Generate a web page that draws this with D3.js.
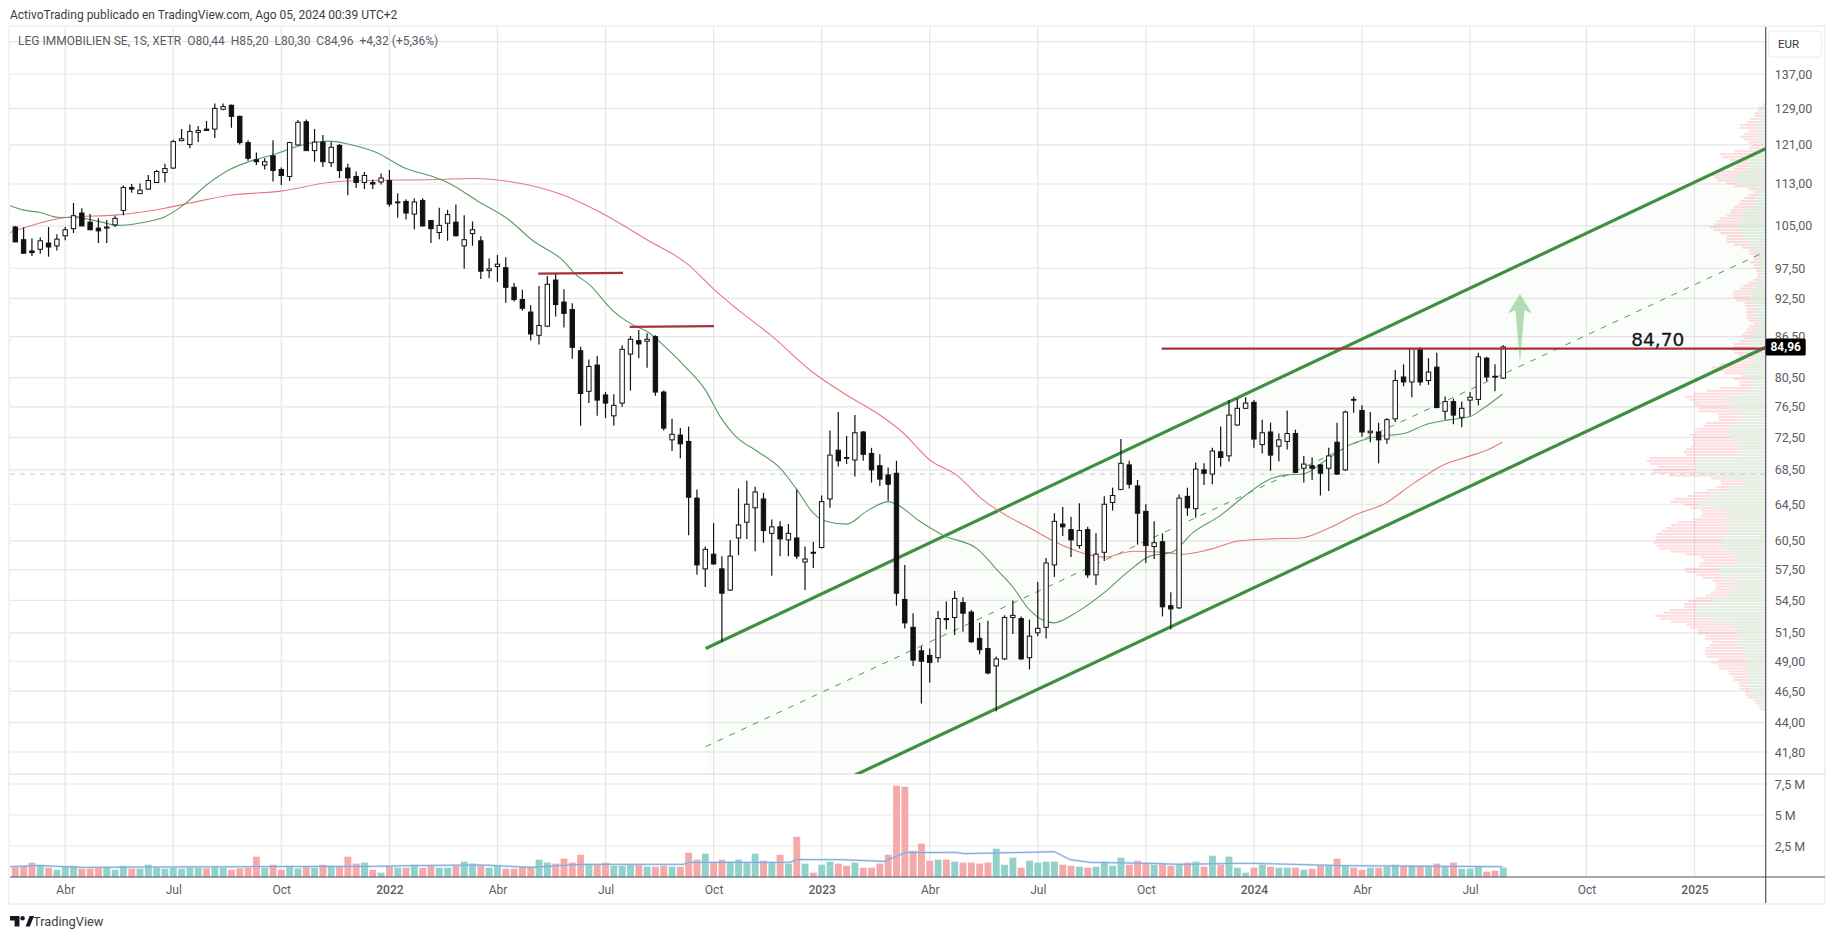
<!DOCTYPE html>
<html>
<head>
<meta charset="utf-8">
<script src="https://cdn.jsdelivr.net/npm/d3@7"></script>
<style>
  body { margin: 0; background: #fff; }
  text { font-family: Roboto, sans-serif; }
</style>
</head>
<body>
<script>
// weekly candles, bar 0 = mid Mar 2021, last bar = Jul 2024
var opens = [
  104.8,102.5,100.5,100.8,101.9,101.4,103.2,104.5,107.4,105.7,
  104.6,104.6,105.2,107.9,112.3,111.1,112,113.3,115.3,116.2,
  121.9,121.1,123.7,124.4,124.4,128.8,129.7,127.2,121.5,117.9,
  116.8,118.7,115.9,114.5,121,126,119.8,121.6,117.3,120.9,
  116.2,114.5,113.3,113.3,113.4,113.7,109.4,109.6,107.2,109.8,
  106,103.8,105.5,105.7,101.4,103.6,102.3,97.1,97.8,97.6,
  94.3,92.3,90.3,86.7,88.1,95.5,91.9,90.7,84.4,78.6,
  82.3,78.1,75.3,77,83.9,85.9,85.8,86.5,78.5,72.2,
  72.8,72,65.2,57.6,59.1,57.6,55.5,60.8,62.5,64.1,
  65.1,61.3,62,60.6,60.8,58.3,59.3,59.8,65.1,70.9,
  70,69.7,73.2,70.5,69,67.9,68.1,54.6,52,49.9,
  49.5,49.3,52.8,52.9,54.3,53.4,51,50.1,48.6,49.2,
  52.9,52.8,49.3,51.5,52,58,62.3,61.7,60,61.7,
  57,59.3,64.7,66.2,69.1,66.6,63.7,59.9,60.4,54,
  53.8,65.4,64,68.5,68,70.7,70.2,74.1,76.3,77.1,
  71.6,73.2,71.4,72,73,68.7,69,69.1,68.7,71.9,
  68.5,77.5,76,73.1,73.2,72.3,74.9,80.6,79.9,84.7,
  80.1,82,75.9,77.2,75.1,77.4,77.5,83.3,80.7,80.44
];
var highs = [
  105,104.7,102.7,102.9,104.8,103.5,104.8,109.3,108.3,107.2,
  106.4,106.1,106.9,112.7,113,113.1,114.8,115.8,117.1,122.1,
  124.4,125.4,125.1,126.2,130.1,130.1,129.9,127.4,122,119.4,
  118.2,122,116.3,121.7,126.4,126.5,124.4,123.1,121.6,121.2,
  117.1,115.5,115.4,113.9,115.1,115.8,111.2,110,110.2,110.2,
  106.1,108.4,108,109,107,105.8,103.1,99.2,99.8,99.4,
  95,93.9,91.4,94.5,96.2,96.6,94,91.7,85,83.1,
  83.6,78.5,78.2,85.2,86.6,87.5,87,86.7,78.7,74.9,
  73.7,73.9,66.2,59.9,62.4,58.9,60.6,66.3,67.2,66.5,
  65.8,62.8,62.6,62.3,66.2,59.9,60.4,65.5,73.4,75.8,
  72.7,75.4,73.3,71.2,70.4,68.8,69.6,58,53.3,50.3,
  50.1,53.5,54.4,55.4,54.8,53.6,52.4,52.6,49.4,53.1,
  54.5,53,52.7,56.3,58.7,63.5,64.2,63.1,64.6,62,
  61.3,65.4,66.4,72.3,69.6,67.3,64.5,62.6,61.3,55.3,
  65.6,66.4,69.4,69.3,71.2,73.9,77.4,77.6,77.8,77.4,
  74.8,74.4,73,76,73.5,70.2,70,69.2,71.2,74.4,
  76,77.9,76.7,75.8,74.4,75,81.6,82.4,84.8,84.9,
  83.3,84.1,77.9,77.6,77.2,78.5,84.1,83.5,82.4,85.2
];
var lows = [
  102.1,100,99.6,100,99.5,100.6,102.4,103.7,105,104.2,
  101.9,101.9,104.8,107,111.3,111.1,111.8,113.3,113.3,116,
  121.9,120.3,121.6,124.1,122.5,128.6,124.7,121.1,117.7,116.8,
  115.9,113.5,112.8,113.6,120.9,119.8,117.5,116.4,116.4,114.2,
  110.8,112.2,112,112,112.9,108.6,106.5,106.2,104.4,104.9,
  101.9,102.6,102.3,103.1,97.4,101.4,95.7,95.8,95.2,91.8,
  92,90.5,85.9,85.3,88,89.6,87.9,83.2,74,77,
  75.3,75,74,76.5,78.7,83.3,81.9,78,73.4,70.8,
  69.9,61.1,57,55.8,58,50.7,55.4,59,60.7,59.4,
  60.3,56.9,58.9,58.9,58.6,55.5,57.7,59.7,64.1,68.9,
  69.2,67.7,69.6,67,66.6,64.9,54,51.9,48.6,45.5,
  47.2,48.9,51.8,51.3,51.6,50.6,49.6,47.9,44.9,49.1,
  51.4,49.1,48.3,51.2,51,56.8,61,58.8,59.7,56.7,
  56,58.4,63.8,66.1,66.3,60.1,58.2,58.6,53,51.8,
  53.7,63.2,63,66.7,66.8,68.9,69.5,74,76.2,71.2,
  70.5,68.4,69.5,71,68.1,67,67.3,65.5,66,67.9,
  68.4,75.7,72.6,71.9,69.3,71.7,74.5,79.3,77.8,79.4,
  79.5,76.3,74.8,74.2,73.8,75.3,76.7,80,78.6,80.3
];
var closes = [
  102.1,100.1,100.2,102.3,101.2,102.6,104.3,106.9,105,104.3,
  104.1,104.8,106.4,112.3,112,111.8,113.7,115.5,116.1,121.7,
  122.3,123.9,124.1,124.1,129,129.4,127.2,121.5,118.2,117.5,
  117.5,115.7,114.7,121.5,125.9,119.8,121.6,117.5,120.5,115.7,
  114.2,113.3,114.7,113,114.2,109.1,109.5,107.4,109.5,105,
  104.5,105.1,107.1,103.2,102.5,104.3,97,97.4,98.2,94.3,
  92.3,90.9,86.9,88.2,94.8,91.5,90.1,84.9,78.3,82.1,
  77.4,77,76.7,84.6,86.1,85.4,86.1,78.5,73.7,72.9,
  71.7,65.3,58,59.6,58.1,55.2,58.9,62.2,64.5,65.9,
  61.6,62,60.7,61.3,58.9,58.6,59.2,64.8,70.3,69.6,
  69.9,73.1,70.4,68.5,67.4,66.8,55.2,52.4,49.1,49,
  48.9,52.8,52.7,54.7,53.3,50.7,50,48,49.2,52.9,
  53.1,49.2,51.2,51.9,58.2,62.6,62,60.6,61.6,57,
  59.1,64.5,65.5,69.3,66.8,63.5,60,60.3,53.9,53.7,
  65.2,64.1,68.6,68.1,70.8,70,75.4,76.3,77,72.3,
  73.1,70.3,72.2,73,68.2,69.2,68.7,68.1,70.2,68,
  75.8,77.4,73.2,73.3,72.2,74.8,80.1,79.9,84.7,79.9,
  81.3,76.4,77.2,75.4,76.3,77.8,83.5,80.6,80.64,84.96
];
// millions of shares
var volumes = [
  .78,.89,1.16,.99,.75,.59,.83,.91,.67,.67,
  .75,.81,.59,.91,.67,.67,.99,.75,.67,.75,
  .67,.75,.75,.7,.83,.75,.59,.7,.75,1.64,
  .75,.99,.59,.91,.7,.81,.75,.99,.91,.81,
  1.64,1.08,1.16,.59,.35,.89,.75,.75,.99,.75,
  .89,.75,.75,.89,1.24,1.08,.94,.75,.89,.67,
  .67,.81,.83,1.4,1.16,1.08,1.48,1.16,1.8,1.05,
  .99,1.16,.91,.91,.99,.99,.83,.83,.91,.83,
  .83,1.96,1.4,1.88,1.16,1.4,1.24,1.4,1.16,1.88,
  1.32,1.18,1.8,1.08,3.25,1.08,.35,.99,1.24,1.08,
  .91,1.16,.75,.75,1.08,1.8,7.37,7.28,2.12,2.69,
  1.32,1.4,1.4,1.24,1.16,1.16,1.08,1.16,2.28,.99,
  1.56,.75,1.32,1.16,1.24,1.24,.99,.91,.83,.75,
  .83,1.24,.91,1.56,.99,1.32,1.16,.99,1.08,.91,
  1.08,1.16,1.24,.83,1.72,.99,1.64,.75,.35,.75,
  .99,.83,.75,.75,.75,.59,.67,.91,.91,1.48,
  .91,.75,.59,.75,.75,.83,.99,.91,.91,.91,
  .91,1.08,.83,1.16,.67,.67,.83,.43,.51,.75
];

// moving averages, read at these bar numbers
var fastWeeks = [-0.6,0.9,3,5.1,7.8,10.1,12.4,15.2,18,20.3,23,25.8,28.1,31.1,35,37.7,40,43.3,47,50.2,52,55.7,59.4,62.2,65.9,67.3,69.1,71.9,74.3,76.1,78.4,80.8,83,84.8,86.8,89.2,92,94,96,97.2,100,102.4,105,106,108.8,111.6,115.8,118.1,120,122,124.9,127.7,130.9,133.7,136.5,139.1,141.7,144.9,147.7,150.9,152.9,154.9,157.7,160.6,163.8,167,169.8,172.6,175,176.6,178.9];
var fastAverage = [108.8,108,107.5,106.6,106.5,105.8,105.1,105.6,106.7,109,112.8,115.9,117.5,119,121.2,121.8,121.2,119.5,116.1,114.5,113.3,109.6,106.1,102.4,98.8,96.6,94.7,90.5,88.3,87.2,84.7,81.8,78.8,75.2,72.5,70.8,68.7,66.2,63.5,62.7,62.3,63.7,64.8,64.5,62.6,61.1,59.6,57.5,55.8,53.6,52.4,53.4,55.2,57.2,58.9,59.3,61.4,63.2,65.3,67.4,67.9,68,69.7,71.6,72.6,73,74.2,74.8,75.2,76.3,78.2];
var slowWeeks = [-0.6,6.9,12,18,21,25.8,32,37.7,40,50.6,55.2,59.4,65.8,70.3,76.1,80.8,84.4,87,90.8,96,100,104,106.8,110,113.2,116.4,119.3,122,125.3,128.5,130.9,134.5,138.1,140.5,143.7,147.3,150.9,154.7,158.1,161.4,164.6,168.2,171.8,175,177,178.9];
var slowAverage = [103.8,106.7,107,108.3,109.3,110.8,111.6,113.3,113.6,113.9,114.1,113.5,110.9,107.6,102.4,98.3,93.5,90.6,86.8,81.2,78.1,75.4,73.1,69.7,67.9,65,63.2,61.9,60.3,59.2,58.8,59.4,59.3,59.1,59.6,60.5,60.7,60.8,61.9,63.4,64.5,66.9,69.1,70.2,70.9,71.9];
var volumeAverageWeeks = [-0.6,3,8,30,43,48,56,62,68,72.7,80.4,81,93.2,93.9,99.3,104.6,107,113.1,114.1,125,126.9,129.3,136.4,140.2,147.2,149,160,178.9];
var volumeAverage = [.84,.92,.78,.84,.86,.92,.97,.78,1.02,1.02,1.02,1.18,1.18,1.4,1.4,1.26,1.96,1.99,1.88,2.04,1.4,1.18,1.1,1.02,1.1,1.1,.91,.83];

// parallel channel
var channelWeeks = [83.05, 210.56];
var channelUpper = [50.1, 120.2];
var channelMiddle = [42.2, 100.4];
var channelLower = [35.5, 84.9];

// drawn resistance levels
var levelWeeks = [[62.9, 73.1], [73.9, 84.05], [137.9, 210.56]];
var levelPrices = [[96.6, 96.7], [88, 88.1], [84.7, 84.7]];
var levelLabelWeek = 194.4;
var arrowWeek = 181;
var arrowPrices = [93.2, 90.1, 82.6];

// volume by price, top row to bottom row (relative width)
var profileTotal = [4,7,8,11,11,16,19,26,26,17,22,26,22,17,14,17,32,46,44,36,34,29,32,46,56,52,49,39,32,17,12,17,21,25,27,32,34,36,39,46,49,52,56,52,46,39,39,39,32,24,17,17,12,12,16,12,11,9,8,9,12,17,22,26,32,33,32,29,21,21,19,19,19,19,17,12,16,19,21,24,22,26,32,32,34,32,27,26,32,46,54,52,42,24,32,26,26,46,59,72,81,
  77,72,71,67,67,48,47,47,60,62,69,71,76,73,74,73,75,80,82,79,116,119,116,108,113,113,97,55,45,44,50,59,71,78,91,96,81,75,65,63,65,73,88,95,100,104,109,110,110,112,109,106,95,80,65,62,66,67,81,80,69,63,53,50,50,51,55,60,70,77,82,82,96,102,111,106,95,79,76,68,68,60,61,53,56,60,61,61,59,47,55,47,47,37,37,33,32,27,26,26,20,20,18,12,10,7,6];
var profileUp = [2,2,2,4,4,7,9,10,9,9,9,9,7,4,2,4,9,12,17,19,16,17,17,21,29,36,32,29,22,11,7,9,11,11,12,14,17,22,24,24,26,29,27,26,26,24,21,17,16,12,9,9,7,7,6,6,6,5,4,6,7,9,11,12,14,16,16,14,12,11,9,9,9,9,9,7,7,9,11,12,12,14,17,17,17,17,12,11,12,16,19,21,22,17,17,14,14,17,17,26,31,
  42,35,35,35,32,28,20,28,28,35,37,37,37,35,30,29,28,28,25,28,70,70,69,72,70,65,57,45,22,25,37,37,52,55,57,68,67,53,38,35,35,42,42,42,38,38,38,42,43,43,43,43,40,32,32,25,28,47,47,47,47,42,32,30,32,32,35,38,53,53,53,69,69,69,69,53,52,35,35,28,28,29,29,29,28,22,21,21,20,16,18,18,20,20,19,18,18,17,16,16,16,16,12,10,7,5,5];

var priceTicks = [137,129,121,113,105,97.5,92.5,86.5,80.5,76.5,72.5,68.5,64.5,60.5,57.5,54.5,51.5,49,46.5,44,41.8];
var volumeTicks = [2.5, 5, 7.5];
var timeTicks = [6,19,32,45,58,71,84,97,110,123,136,149,162,175,189,202];
var timeLabels = ['Abr','Jul','Oct','2022','Abr','Jul','Oct','2023','Abr','Jul','Oct','2024','Abr','Jul','Oct','2025'];

var lastPrice = 84.96;
var baseLine = 68;
var chartTitle = 'ActivoTrading publicado en TradingView.com, Ago 05, 2024 00:39 UTC+2';
var legend = 'LEG IMMOBILIEN SE, 1S, XETR\u00a0\u00a0O80,44\u00a0\u00a0H85,20\u00a0\u00a0L80,30\u00a0\u00a0C84,96\u00a0\u00a0+4,32 (+5,36%)';

var paneLeft = 10, paneRight = 1765.7, paneTop = 27, paneBottom = 774, volBottom = 877, frameBottom = 903, frameRight = 1825;

var x = d3.scaleLinear().domain([0, 179]).range([15.3, 1503.3]);
var y = d3.scaleLog().domain([137, 41.8]).range([74, 752]);
var yVol = d3.scaleLinear().domain([0, 7.5]).range([volBottom, 784]);
var rows = d3.scaleBand().domain(d3.range(profileTotal.length)).range([y(130.3), y(44.9)]).padding(0.28);
var rowWidth = d3.scaleLinear().domain([0, 100]).range([0, 100]);

var comma = function (d, n) { return d.toFixed(n).replace('.', ','); };

var svg = d3.select('body').append('svg').attr('width', 1835).attr('height', 939)
  .style('display', 'block');

svg.append('defs').append('clipPath').attr('id', 'pane').append('rect')
  .attr('x', paneLeft).attr('y', paneTop).attr('width', paneRight - paneLeft).attr('height', paneBottom - paneTop);

// frame
svg.append('rect').attr('x', paneLeft - 1).attr('y', paneTop - 1)
  .attr('width', frameRight - paneLeft + 1).attr('height', frameBottom - paneTop + 2)
  .attr('fill', 'none').attr('stroke', '#eeeeee').attr('stroke-width', 1.5);

// grid
var grid = svg.append('g').attr('stroke', '#e6e6e6').attr('stroke-width', 1.2);
grid.selectAll('.gy').data(priceTicks.concat([145])).enter().append('line')
  .attr('x1', paneLeft).attr('x2', paneRight)
  .attr('y1', function (d) { return y(d); }).attr('y2', function (d) { return y(d); });
grid.selectAll('.gv').data(volumeTicks).enter().append('line')
  .attr('x1', paneLeft).attr('x2', paneRight)
  .attr('y1', function (d) { return yVol(d); }).attr('y2', function (d) { return yVol(d); });
grid.selectAll('.gx').data(timeTicks).enter().append('line')
  .attr('y1', paneTop).attr('y2', volBottom)
  .attr('x1', function (d) { return x(d); }).attr('x2', function (d) { return x(d); });
grid.append('line').attr('x1', paneLeft).attr('x2', frameRight).attr('y1', paneBottom).attr('y2', paneBottom)
  .attr('stroke-width', 1.6);

var main = svg.append('g').attr('clip-path', 'url(#pane)');

// volume profile
main.append('g').selectAll('rect').data(profileTotal).enter().append('rect')
  .attr('x', function (d) { return paneRight - rowWidth(d); })
  .attr('y', function (d, i) { return rows(i); })
  .attr('width', function (d) { return rowWidth(d); })
  .attr('height', rows.bandwidth())
  .attr('fill', 'rgba(242,54,69,0.17)');
main.append('g').selectAll('rect').data(profileUp).enter().append('rect')
  .attr('x', function (d) { return paneRight - rowWidth(d); })
  .attr('y', function (d, i) { return rows(i); })
  .attr('width', function (d) { return rowWidth(d); })
  .attr('height', rows.bandwidth())
  .attr('fill', '#e2f0e2');

// baseline
main.append('line').attr('x1', paneLeft).attr('x2', paneRight)
  .attr('y1', y(baseLine)).attr('y2', y(baseLine))
  .attr('stroke', '#bcc8e6').attr('stroke-width', 1).attr('stroke-dasharray', '5,5');

// channel
var channelLine = function (prices) {
  return d3.line().x(function (d, i) { return x(channelWeeks[i]); }).y(function (d) { return y(d); })(prices);
};
main.append('path')
  .attr('d', 'M' + x(channelWeeks[0]) + ',' + y(channelUpper[0]) + 'L' + x(channelWeeks[1]) + ',' + y(channelUpper[1]) +
    'L' + x(channelWeeks[1]) + ',' + y(channelLower[1]) + 'L' + x(channelWeeks[0]) + ',' + y(channelLower[0]) + 'Z')
  .attr('fill', 'rgba(76,175,80,0.025)');
main.append('path').attr('d', channelLine(channelMiddle)).attr('fill', 'none')
  .attr('stroke', '#4f9a55').attr('stroke-width', 1).attr('stroke-dasharray', '6,7');
[channelUpper, channelLower].forEach(function (prices) {
  main.append('path').attr('d', channelLine(prices)).attr('fill', 'none')
    .attr('stroke', '#3f8f41').attr('stroke-width', 3.2);
});

// moving averages
var averageLine = function (weeks, scale) {
  return d3.line().curve(d3.curveMonotoneX)
    .x(function (d, i) { return x(weeks[i]); }).y(function (d) { return scale(d); });
};
main.append('path').attr('d', averageLine(slowWeeks, y)(slowAverage)).attr('fill', 'none')
  .attr('stroke', '#e8777f').attr('stroke-width', 1.1);
main.append('path').attr('d', averageLine(fastWeeks, y)(fastAverage)).attr('fill', 'none')
  .attr('stroke', '#5a9a62').attr('stroke-width', 1.1);

// candles
var candles = main.append('g').selectAll('g').data(closes).enter().append('g');
candles.append('line')
  .attr('x1', function (d, i) { return x(i); }).attr('x2', function (d, i) { return x(i); })
  .attr('y1', function (d, i) { return y(highs[i]); }).attr('y2', function (d, i) { return y(lows[i]); })
  .attr('stroke', '#111').attr('stroke-width', 1.2);
candles.append('rect')
  .attr('x', function (d, i) { return x(i) - 2.2; })
  .attr('width', 4.4)
  .attr('y', function (d, i) { return y(Math.max(opens[i], d)); })
  .attr('height', function (d, i) { return Math.max(0.8, Math.abs(y(opens[i]) - y(d))); })
  .attr('fill', function (d, i) { return d >= opens[i] ? '#fff' : '#111'; })
  .attr('stroke', '#111').attr('stroke-width', 1);

// levels
main.append('g').selectAll('path').data(levelPrices).enter().append('path')
  .attr('d', function (d, i) {
    return 'M' + x(levelWeeks[i][0]) + ',' + y(d[0]) + 'L' + x(levelWeeks[i][1]) + ',' + y(d[1]);
  })
  .attr('stroke', '#a8303c').attr('stroke-width', 2.2).attr('fill', 'none');

// arrow
var ax = x(arrowWeek);
main.append('path')
  .attr('d', 'M' + ax + ',' + y(arrowPrices[0]) + 'L' + (ax + 12) + ',' + y(arrowPrices[1]) +
    'L' + (ax + 4.5) + ',' + (y(arrowPrices[1]) - 3) + 'L' + ax + ',' + y(arrowPrices[2]) +
    'L' + (ax - 4.5) + ',' + (y(arrowPrices[1]) - 3) + 'L' + (ax - 12) + ',' + y(arrowPrices[1]) + 'Z')
  .attr('fill', 'rgba(76,175,80,0.42)');

main.append('text').attr('x', x(levelLabelWeek)).attr('y', y(84.7) - 2.5)
  .style('font-family', '"DejaVu Sans"').style('font-size', '18.5px').attr('fill', '#131722')
  .attr('stroke', '#131722').attr('stroke-width', 0.3)
  .text(comma(84.7, 2));

// volume
svg.append('g').selectAll('rect').data(volumes).enter().append('rect')
  .attr('x', function (d, i) { return x(i) - 3.4; })
  .attr('width', 6.9)
  .attr('y', function (d) { return yVol(d); })
  .attr('height', function (d) { return volBottom - yVol(d); })
  .attr('fill', function (d, i) { return closes[i] >= opens[i] ? '#92d2ca' : '#f6a9a9'; });
svg.append('path').attr('d', averageLine(volumeAverageWeeks, yVol).curve(d3.curveLinear)(volumeAverage))
  .attr('fill', 'none').attr('stroke', '#a9c8f0').attr('stroke-opacity', 0.6).attr('stroke-width', 2.2);
svg.append('path').attr('d', averageLine(volumeAverageWeeks, yVol).curve(d3.curveLinear)(volumeAverage))
  .attr('fill', 'none').attr('stroke', '#6b9dd8').attr('stroke-opacity', 0.8).attr('stroke-width', 1);

// axes
var styleAxis = function (g) {
  g.select('.domain').remove();
  g.selectAll('text').attr('fill', '#5a5d66').style('font-size', '12.5px').style('font-family', 'Roboto, sans-serif');
};
svg.append('g').attr('transform', 'translate(' + paneRight + ',0)')
  .call(d3.axisRight(y).tickValues(priceTicks).tickSize(0).tickPadding(9)
    .tickFormat(function (d) { return comma(d, 2); }))
  .call(styleAxis);
svg.append('g').attr('transform', 'translate(' + paneRight + ',0)')
  .call(d3.axisRight(yVol).tickValues(volumeTicks).tickSize(0).tickPadding(9)
    .tickFormat(function (d) { return String(d).replace('.', ',') + ' M'; }))
  .call(styleAxis);
svg.append('g').attr('transform', 'translate(0,' + volBottom + ')')
  .call(d3.axisBottom(x).tickValues(timeTicks).tickSize(0).tickPadding(8)
    .tickFormat(function (d, i) { return timeLabels[i]; }))
  .call(styleAxis)
  .selectAll('text')
  .style('font-size', '12px')
  .style('font-weight', function (d, i) { return /\d/.test(timeLabels[i]) ? 500 : 400; });

svg.append('line').attr('x1', paneRight).attr('x2', paneRight).attr('y1', paneTop).attr('y2', frameBottom)
  .attr('stroke', '#50535e').attr('stroke-width', 1.2);
svg.append('line').attr('x1', paneLeft).attr('x2', frameRight).attr('y1', volBottom).attr('y2', volBottom)
  .attr('stroke', '#50535e').attr('stroke-width', 1.2);

// last price tag
svg.append('rect').attr('x', paneRight).attr('y', y(lastPrice) - 8.5).attr('width', 40).attr('height', 17)
  .attr('rx', 1.5).attr('fill', '#000');
svg.append('text').attr('x', paneRight + 20).attr('y', y(lastPrice) + 4).attr('text-anchor', 'middle')
  .attr('fill', '#fff').style('font-size', '12px').style('font-weight', 700).text(comma(lastPrice, 2));

// currency button
svg.append('rect').attr('x', 1768.5).attr('y', 31).attr('width', 53).attr('height', 26).attr('rx', 4)
  .attr('fill', '#fff').attr('stroke', '#eeeeee').attr('stroke-width', 1.2);
svg.append('text').attr('x', 1778).attr('y', 48).attr('fill', '#333').style('font-size', '11.5px').text('EUR');

// titles
svg.append('text').attr('x', 10).attr('y', 19).attr('fill', '#3a3d45').style('font-size', '12px').text(chartTitle);
svg.append('text').attr('x', 18).attr('y', 45).attr('fill', '#5a5d66').style('font-size', '12px').text(legend);

// logo
var logo = svg.append('g').attr('transform', 'translate(10,916)').attr('fill', '#131722');
logo.append('path').attr('d', 'M0,0H9.5V10.5H4.6V4.4H0Z');
logo.append('circle').attr('cx', 12.6).attr('cy', 2.2).attr('r', 2.2);
logo.append('path').attr('d', 'M15.6,10.5L19.6,0H24L19.8,10.5Z');
svg.append('text').attr('x', 33).attr('y', 926).attr('fill', '#3a3d45').style('font-size', '12.8px').text('TradingView');
</script>
</body>
</html>
